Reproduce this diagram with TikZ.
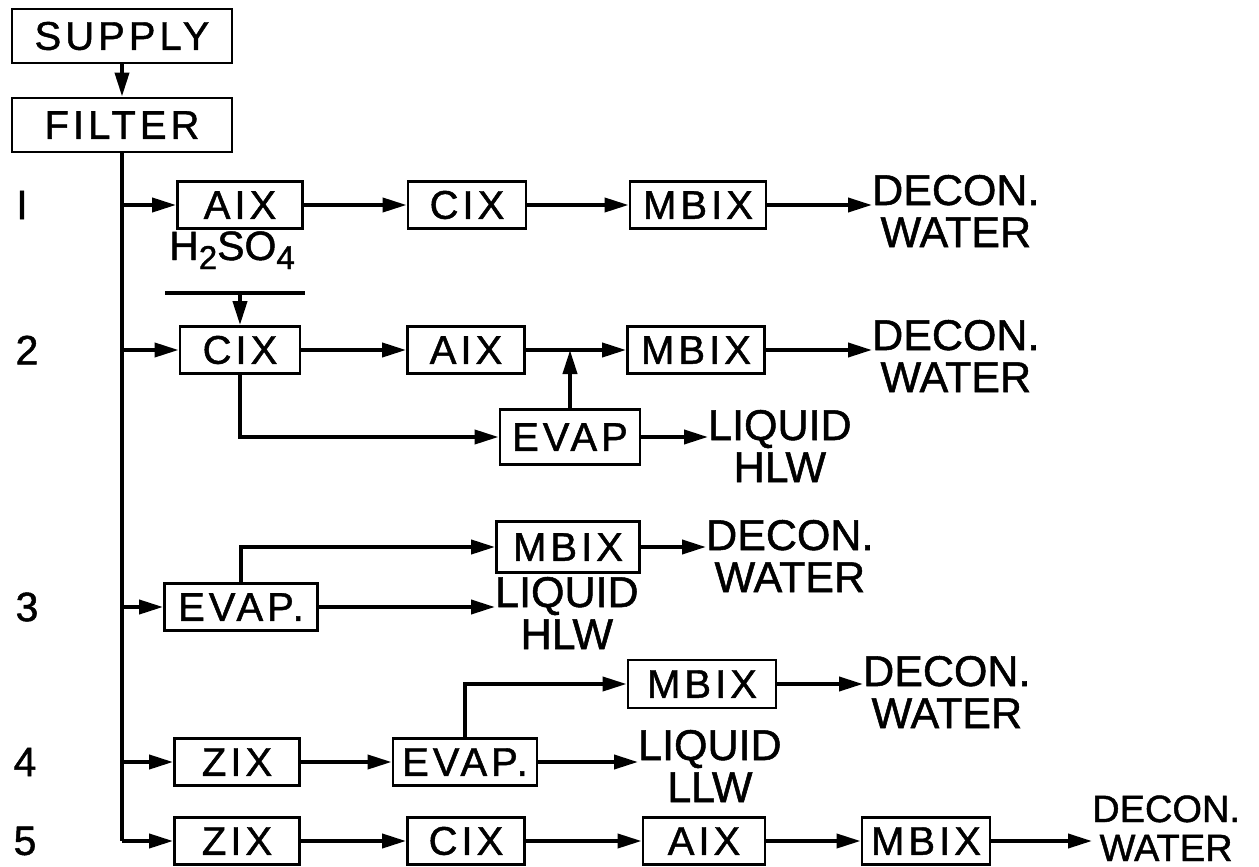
\documentclass[tikz,border=0pt]{standalone}
\usepackage{fontspec}
\setmainfont[FakeBold=1.2]{Liberation Sans}
\newfontfamily\boxfont[LetterSpace=10,FakeBold=1.2]{Liberation Sans}
\usetikzlibrary{arrows.meta}
\newcommand{\twoline}[2]{\vtop{\halign{\hfil##\hfil\cr #1\cr #2\cr}}}
\begin{document}
\begin{tikzpicture}[x=1pt,y=-1pt,
  bx/.style={draw, line width=2.8pt, inner sep=0pt, minimum height=47pt,
    font=\boxfont\fontsize{40}{40}\selectfont},
  outtxt/.style={anchor=base west, inner sep=0pt, font=\fontsize{43}{42}\selectfont},
  rowlbl/.style={inner sep=0pt, font=\fontsize{41}{41}\selectfont},
  ln/.style={line width=3.8pt},
  ar/.style={ln, -{Triangle[length=24pt,width=14pt]}},
]
\useasboundingbox (0,0) rectangle (1259,867);

% boxes
\node[bx, minimum width=220pt, minimum height=54pt] (sup) at (122,36) {SUPPLY};
\node[bx, minimum width=220pt, minimum height=54pt] (fil) at (122,125) {FILTER};

\node[bx, minimum width=125pt] (a1) at (240,205) {AIX};
\node[bx, minimum width=118pt] (c1) at (467,205) {CIX};
\node[bx, minimum width=136pt] (m1) at (698,205) {MBIX};

\node[bx, minimum width=120pt] (c2) at (240,350) {CIX};
\node[bx, minimum width=117pt] (a2) at (466,350) {AIX};
\node[bx, minimum width=137pt] (m2) at (696,350) {MBIX};
\node[bx, minimum width=140pt, minimum height=55pt] (e2) at (570,437) {EVAP};

\node[bx, minimum width=153pt] (e3) at (241,607) {EVAP.};
\node[bx, minimum width=143pt, minimum height=51pt] (m3) at (568,547) {MBIX};

\node[bx, minimum width=125pt] (z4) at (237,762) {ZIX};
\node[bx, minimum width=144pt] (e4) at (465,762) {EVAP.};
\node[bx, minimum width=148pt, minimum height=48pt] (m4) at (702,684) {MBIX};

\node[bx, minimum width=125pt] (z5) at (237,841) {ZIX};
\node[bx, minimum width=117pt] (c5) at (466,841) {CIX};
\node[bx, minimum width=122pt] (a5) at (704,841) {AIX};
\node[bx, minimum width=128pt] (m5) at (926,841) {MBIX};

% row labels
\node[rowlbl] (l1) at (22,205) {I};
\node[rowlbl] (l2) at (27,350) {2};
\node[rowlbl] (l3) at (27,607) {3};
\node[rowlbl] (l4) at (25,762) {4};
\node[rowlbl] (l5) at (25,841) {5};

% outputs
\node[outtxt] (d1) at (872,205) {\twoline{DECON.}{WATER}};
\node[outtxt] (d2) at (872,350) {\twoline{DECON.}{WATER}};
\node[outtxt] (q2) at (708,440) {\twoline{LIQUID}{HLW}};
\node[outtxt] (d3) at (706,550) {\twoline{DECON.}{WATER}};
\node[outtxt] (q3) at (495,607) {\twoline{LIQUID}{HLW}};
\node[outtxt] (q4) at (638,760) {\twoline{LIQUID}{LLW}};
\node[outtxt] (d4) at (863,686) {\twoline{DECON.}{WATER}};
\node[outtxt, font=\fontsize{38}{39}\selectfont] (d5) at (1092,822) {\twoline{DECON.}{WATER}};

% H2SO4
\node[inner sep=0pt, anchor=base, font=\fontsize{41}{41}\selectfont] (acid) at (232,260)
  {H\raisebox{-9pt}{\fontsize{33}{33}\selectfont 2}SO\raisebox{-9pt}{\fontsize{33}{33}\selectfont 4}};
\coordinate (ul1) at (165,293);
\coordinate (ul2) at (305,293);
\coordinate (ulm) at (240,293);
\draw[ln] (ul1) -- (ul2);

% trunk
\coordinate (t1) at (122,205);
\coordinate (t2) at (122,350);
\coordinate (t3) at (122,607);
\coordinate (t4) at (122,762);
\coordinate (t5) at (122,841);
\draw[ar] (sup) -- (fil);
\draw[ln] (fil.south) -- (t5);
\draw[ar] (t1) -- (a1);
\draw[ar] (t2) -- (c2);
\draw[ar] (t3) -- (e3);
\draw[ar] (t4) -- (z4);
\draw[ar] (t5) -- (z5);

% row 1
\draw[ar] (a1) -- (c1);
\draw[ar] (c1) -- (m1);
\draw[ar] (m1.east) -- (m1.east -| d1.west);

% row 2
\draw[ar] (ulm) -- (c2.north);
\draw[ar] (c2) -- (a2);
\draw[ar] (a2) -- (m2);
\draw[ar] (m2.east) -- (m2.east -| d2.west);
\draw[ar] (c2.south) |- (e2.west);
\coordinate (j2) at (e2.north |- a2.east);
\draw[ar] (e2.north) -- (j2);
\draw[ar] (e2.east) -- (e2.east -| q2.west);

% row 3
\draw[ar] (e3.north) |- (m3.west);
\draw[ar] (m3.east) -- (m3.east -| d3.west);
\draw[ar] (e3.east) -- (e3.east -| q3.west);

% row 4
\draw[ar] (z4) -- (e4);
\draw[ar] (e4.north) |- (m4.west);
\draw[ar] (m4.east) -- (m4.east -| d4.west);
\draw[ar] (e4.east) -- (e4.east -| q4.west);

% row 5
\draw[ar] (z5) -- (c5);
\draw[ar] (c5) -- (a5);
\draw[ar] (a5) -- (m5);
\draw[ar] (m5.east) -- (m5.east -| d5.west);
\end{tikzpicture}
\end{document}
